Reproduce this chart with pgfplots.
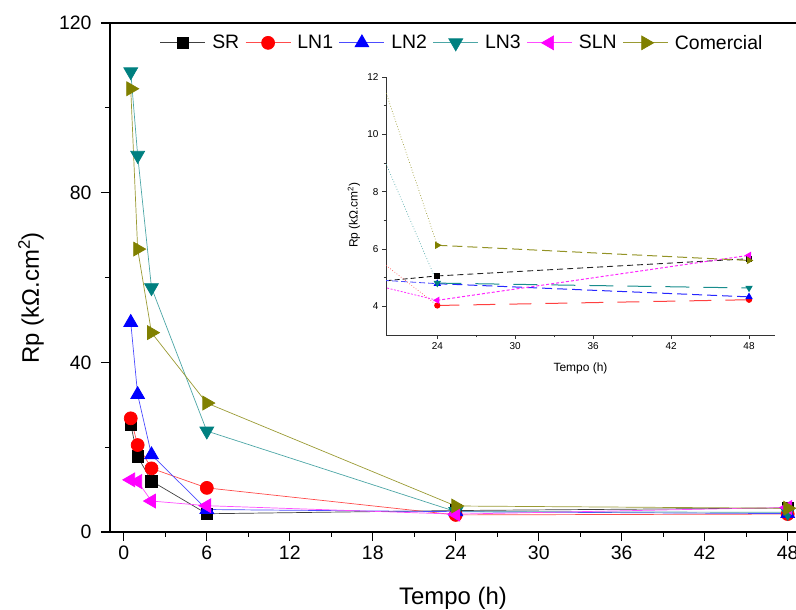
\documentclass[border=0pt]{standalone}
\usepackage{pgfplots}
\pgfplotsset{compat=1.18}
\usepackage{fontspec}
\setmainfont{Liberation Sans}
\definecolor{cteal}{RGB}{0,128,128}
\definecolor{colive}{RGB}{128,128,0}
\definecolor{cmag}{RGB}{255,0,255}
\definecolor{cblue}{RGB}{0,0,255}
\definecolor{cred}{RGB}{255,0,0}
\pgfplotstableread{
x SR LNa LNb LNc SLN COM
0.5 25.3 26.8 49.4 108.5 12.3 104.5
1   17.8 20.5 32.4 88.8 11.9 66.7
2   12.0 15.0 18.2 57.6 7.3 47.0
6   4.3  10.4 5.3  23.8 6.2 30.4
24  5.06 4.03 4.79 4.81 4.21 6.13
48  5.66 4.23 4.33 4.64 5.78 5.60
}\datatab
\pgfplotsset{
 sSR/.style={black!75, line width=0.7bp, mark=square*, mark size=5.8bp, mark options={solid, black}},
 sLN1/.style={cred!70, line width=0.7bp, mark=*, mark size=6.5bp, mark options={solid, cred}},
 sLN2/.style={cblue!70, line width=0.7bp, mark=triangle*, mark size=8bp, mark options={solid, cblue}},
 sLN3/.style={cteal!70, line width=0.7bp, mark=triangle*, mark size=8bp, mark options={solid, cteal, rotate=180}},
 sSLN/.style={cmag!70, line width=0.7bp, mark=triangle*, mark size=8bp, mark options={solid, cmag, rotate=90}},
 sCOM/.style={colive!80, line width=0.7bp, mark=triangle*, mark size=8bp, mark options={solid, colive, rotate=-90}},
}
\begin{document}
\begin{tikzpicture}
\useasboundingbox (0,0) rectangle (796bp,610bp);
\begin{axis}[
 at={(110bp,78bp)}, anchor=south west, scale only axis,
 width=686bp, height=509bp,
 xmin=-1.0, xmax=48.6, ymin=0, ymax=120,
 axis lines*=left, axis line style={-, line width=1.3bp},
 xtick={0,6,...,48}, ytick={0,40,80,120},
 minor x tick num=1, minor y tick num=1,
 tick align=outside, major tick length=9bp, minor tick length=5bp,
 every tick/.style={black, line width=1.2bp},
 tick label style={font=\fontsize{19.5}{20}\selectfont},
 yticklabel style={xshift=-6bp},
 xticklabel style={yshift=-1bp},
 /pgf/number format/assume math mode=true,
 xlabel={Tempo (h)}, ylabel={Rp (kΩ.cm\textsuperscript{2})},
 label style={font=\fontsize{24}{28}\selectfont},
 xlabel style={at={(axis description cs:0.5,-0.1297)}, anchor=center},
 ylabel style={at={(axis description cs:-0.1152,0.46)}, anchor=center},
 legend columns=6,
 legend style={at={(axis description cs:0.512,0.961)}, anchor=center, draw=none, fill=none,
   font=\fontsize{19.5}{22}\selectfont, nodes={inner sep=0pt},
   /tikz/every even column/.append style={column sep=6bp},
   /tikz/every odd column/.append style={column sep=6.5bp}},
 legend image code/.code={\draw[mark repeat=2, mark phase=2] plot coordinates {(0bp,0bp) (22.5bp,0bp) (45bp,0bp)};},
 clip=false,
]
\addplot[sSR] table[x=x,y=SR]{\datatab}; \addlegendentry{SR}
\addplot[sLN1] table[x=x,y=LNa]{\datatab}; \addlegendentry{LN1}
\addplot[sLN2] table[x=x,y=LNb]{\datatab}; \addlegendentry{LN2}
\addplot[sLN3] table[x=x,y=LNc]{\datatab}; \addlegendentry{LN3}
\addplot[sSLN] table[x=x,y=SLN]{\datatab}; \addlegendentry{SLN}
\addplot[sCOM] table[x=x,y=COM]{\datatab}; \addlegendentry{Comercial}
\draw[line width=1.3bp] (rel axis cs:0,1) -- (rel axis cs:1,1);
\end{axis}
% inset
\begin{axis}[
 at={(386bp,275bp)}, anchor=south west, scale only axis,
 width=389bp, height=258bp,
 xmin=20.05, xmax=50, ymin=3, ymax=12,
 axis lines*=left, axis line style={-, line width=0.9bp, black!80},
 xtick={24,30,...,48}, ytick={4,6,...,12},
 minor x tick num=1, minor y tick num=1,
 tick align=outside, major tick length=4bp, minor tick length=2.5bp,
 every tick/.style={black!80, line width=0.8bp},
 tick label style={font=\fontsize{10}{11}\selectfont},
 /pgf/number format/assume math mode=true,
 xlabel={Tempo (h)}, ylabel={Rp (kΩ.cm\textsuperscript{2})},
 label style={font=\fontsize{12}{14}\selectfont},
 xlabel style={at={(axis description cs:0.5,-0.128)}, anchor=center},
 ylabel style={at={(axis description cs:-0.0823,0.465)}, anchor=center},
]
% segments from 6 h to 24 h
\addplot[black, line width=0.8bp, dash pattern=on 5bp off 3bp] coordinates {(6,4.3) (24,5.06)};
\addplot[cred!70, line width=0.7bp, dotted] coordinates {(6,10.4) (24,4.03)};
\addplot[cblue!70, line width=0.8bp, dash pattern=on 6bp off 3bp] coordinates {(6,5.3) (24,4.79)};
\addplot[cteal!70, line width=0.7bp, dotted] coordinates {(6,23.8) (24,4.81)};
\addplot[cmag!80, line width=0.8bp, dash pattern=on 2bp off 1.5bp] coordinates {(6,6.2) (24,4.21)};
\addplot[colive!80, line width=0.7bp, dotted] coordinates {(6,30.4) (24,6.13)};
% segments from 24 h to 48 h
\addplot[black!85, line width=0.9bp, dash pattern=on 6bp off 4bp, mark=square*, mark size=2.6bp, mark options={solid, black}] coordinates {(24,5.06) (48,5.66)};
\addplot[cred!75, line width=1bp, dash pattern=on 22bp off 14bp, mark=*, mark size=2.6bp, mark options={solid, cred}] coordinates {(24,4.03) (48,4.23)};
\addplot[cblue!85, line width=1bp, dash pattern=on 10bp off 5bp, mark=triangle*, mark size=3.3bp, mark options={solid, cblue}] coordinates {(24,4.79) (48,4.33)};
\addplot[cteal!90, line width=1bp, dash pattern=on 24bp off 14bp, mark=triangle*, mark size=3.3bp, mark options={solid, cteal, rotate=180}] coordinates {(24,4.81) (48,4.64)};
\addplot[cmag!85, line width=1bp, dash pattern=on 3bp off 2bp, mark=triangle*, mark size=3.3bp, mark options={solid, cmag, rotate=90}] coordinates {(24,4.21) (48,5.78)};
\addplot[colive!85, line width=1bp, dash pattern=on 10bp off 5bp, mark=triangle*, mark size=3.3bp, mark options={solid, colive, rotate=-90}] coordinates {(24,6.13) (48,5.60)};
\end{axis}
\end{tikzpicture}
\end{document}
